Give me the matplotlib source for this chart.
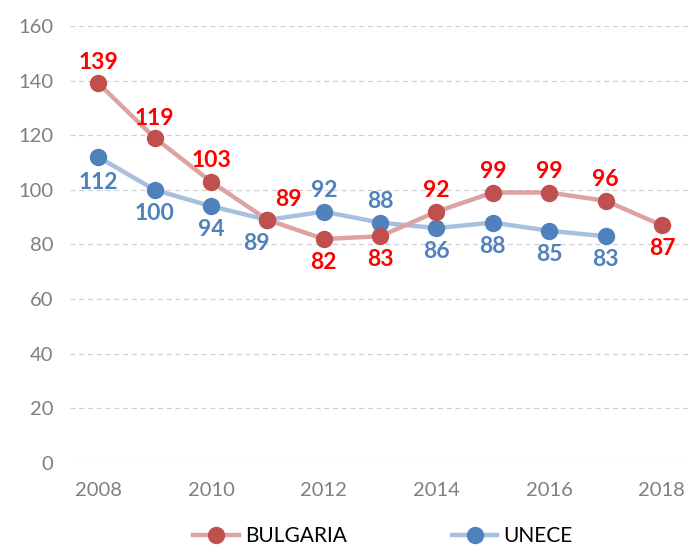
import matplotlib.pyplot as plt
import numpy as np

plt.rcParams['font.family'] = ['Lato', 'DejaVu Sans']

years_bg = [2008, 2009, 2010, 2011, 2012, 2013, 2014, 2015, 2016, 2017, 2018]
bulgaria = [139, 119, 103, 89, 82, 83, 92, 99, 99, 96, 87]
years_un = [2008, 2009, 2010, 2011, 2012, 2013, 2014, 2015, 2016, 2017]
unece = [112, 100, 94, 89, 92, 88, 86, 88, 85, 83]

# label offsets in points (dx, dy)
bg_offsets = [(0, 15), (0, 14), (0, 15), (15, 15), (0, -17), (0, -17),
              (0, 15), (0, 15), (0, 15), (0, 15), (0, -17)]
un_offsets = [(0, -18), (0, -17), (0, -17), (-8, -17), (0, 15), (0, 15),
              (0, -17), (0, -17), (0, -17), (0, -17)]

fig = plt.figure(figsize=(6.88, 5.47), dpi=100)
ax = fig.add_axes([0.102, 0.1536, 0.901, 0.799])

ax.plot(years_bg, bulgaria, color='#dda3a2', lw=3.2, marker='o', ms=11.5,
        mfc='#c0504d', mec='#c0504d', label='BULGARIA', zorder=3)
ax.plot(years_un, unece, color='#a7c0e0', lw=3.2, marker='o', ms=11.5,
        mfc='#4f81bd', mec='#4f81bd', label='UNECE', zorder=2)

for x, y, (dx, dy) in zip(years_bg, bulgaria, bg_offsets):
    ax.annotate(str(y), (x, y), xytext=(dx, dy), textcoords='offset points',
                ha='center', va='center', color='#ff0000', fontsize=16.5,
                fontweight='bold')
for x, y, (dx, dy) in zip(years_un, unece, un_offsets):
    ax.annotate(str(y), (x, y), xytext=(dx, dy), textcoords='offset points',
                ha='center', va='center', color='#4f81bd', fontsize=16.5,
                fontweight='bold')

ax.set_xlim(2007.5, 2018.5)
ax.set_ylim(0, 160)
ax.set_yticks(np.arange(0, 161, 20))
ax.set_xticks(np.arange(2008, 2019, 2))
ax.grid(axis='y', color='#d0d0d0', ls=(0, (4, 3)), lw=0.9)
ax.set_axisbelow(True)
for s in ax.spines.values():
    s.set_visible(False)
ax.tick_params(length=0, labelsize=14.5, colors='#7f7f7f')
ax.tick_params(axis='x', pad=14)
ax.tick_params(axis='y', pad=12)

ax.legend(loc='center', bbox_to_anchor=(0.505, -0.168), ncol=2,
          frameon=False, fontsize=15, columnspacing=5.0, handlelength=2.2,
          handletextpad=0.3, borderpad=0)

fig.savefig('out.png', dpi=100)
